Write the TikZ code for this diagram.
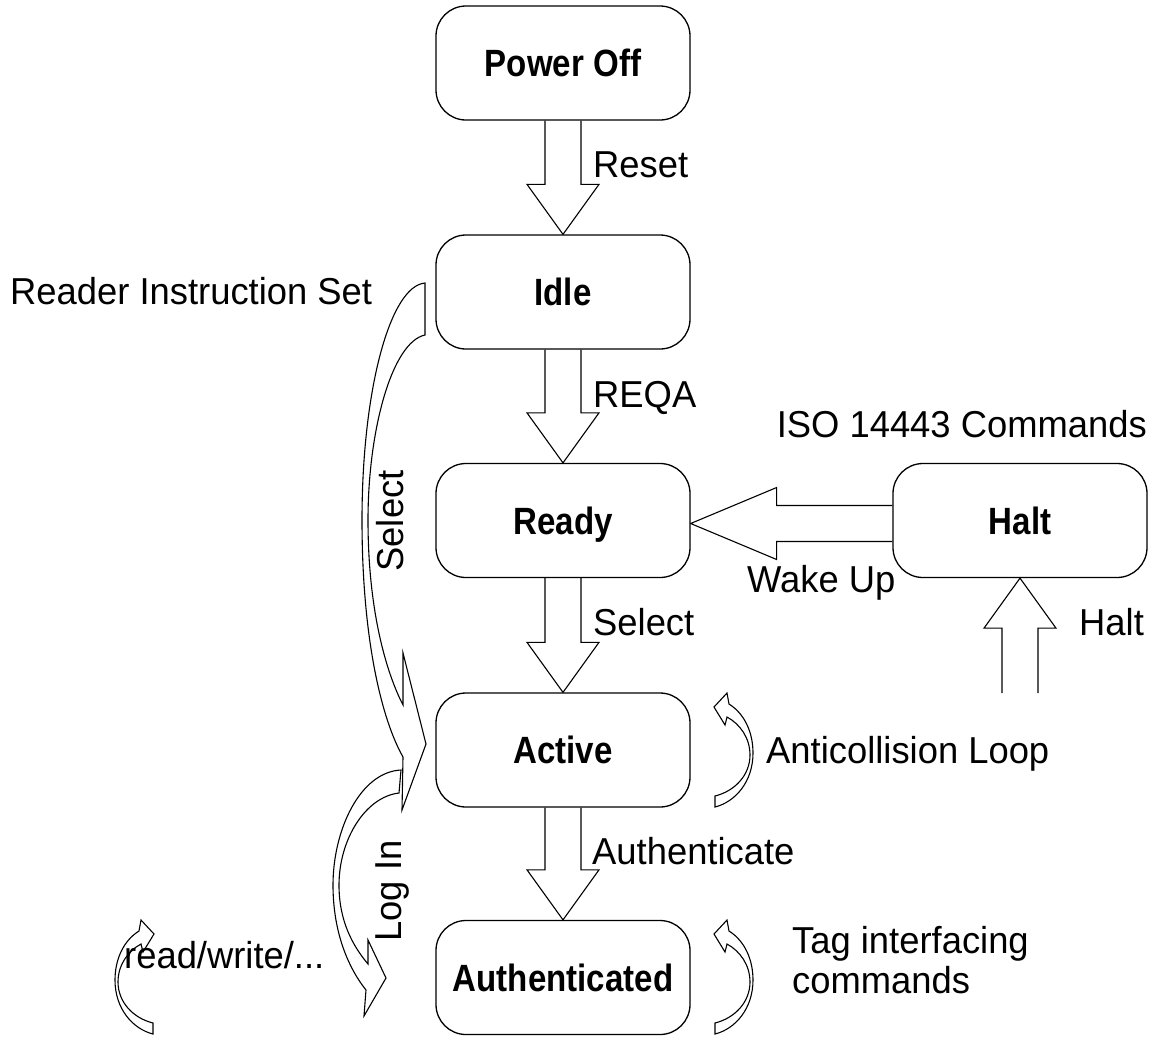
\documentclass[tikz,border=0pt]{standalone}
\usepackage{fontspec}
\setmainfont{Liberation Sans}
\newfontfamily\regfont[FakeStretch=0.97]{Liberation Sans}
\newfontfamily\boldfont[FakeStretch=0.87]{Liberation Sans}
\usetikzlibrary{calc,backgrounds}
\tikzset{
  state/.style={draw, line width=1.3pt, rounded corners=30pt, minimum width=254pt,
    minimum height=114pt, inner sep=0pt, fill=white, text height=27.2pt, text depth=0pt,
    font=\boldfont\fontsize{38}{44}\selectfont\bfseries},
  lbl/.style={font=\regfont\fontsize{37.5}{44}\selectfont, inner sep=0pt},
  blk/.style={draw, line width=1.1pt, fill=white, line join=miter},
}
\newcommand\vblock[2]{%
  \draw[blk] ($(#1.south)+(-18,0)$) -- ($(#2.north)+(-18,-50)$) -- ($(#2.north)+(-36,-50)$)
    -- (#2.north) -- ($(#2.north)+(36,-50)$) -- ($(#2.north)+(18,-50)$) -- ($(#1.south)+(18,0)$);}
\newcommand\loopA{%
  \draw[blk] (715,807) -- (715,796) .. controls (735,791) and (750,775) .. (750,755)
    .. controls (750,738) and (740,724) .. (727,717) -- (725,725) -- (714,707) -- (727,693)
    -- (729,704) .. controls (745,714) and (753,733) .. (753,753)
    .. controls (753,782) and (735,802) .. (715,807) -- cycle;}
\begin{document}
\begin{tikzpicture}[x=1pt,y=-1pt]
\useasboundingbox (0,0) rectangle (1157,1037);
% states
\node[state] (off) at (563,63) {Power Off};
\node[state] (idle) at (563,292) {Idle};
\node[state] (ready) at (563,520.5) {Ready};
\node[state] (active) at (563,750) {Active};
\node[state] (auth) at (563,977.5) {Authenticated};
\node[state] (halt) at (1020,520.5) {Halt};
\coordinate (haltin) at (1020,693);
% straight block arrows
\begin{scope}[on background layer]
\vblock{off}{idle}
\vblock{idle}{ready}
\vblock{ready}{active}
\vblock{active}{auth}
\draw[blk] ($(haltin)+(-18,0)$) -- ($(halt.south)+(-18,50)$) -- ($(halt.south)+(-36,50)$)
  -- (halt.south) -- ($(halt.south)+(36,50)$) -- ($(halt.south)+(18,50)$) -- ($(haltin)+(18,0)$);
\draw[blk] ($(halt.west)+(0,-15)$) -- ($(ready.east)+(86,-15)$) -- ($(ready.east)+(86,-33)$)
  -- ($(ready.east)+(0,3)$) -- ($(ready.east)+(86,39)$) -- ($(ready.east)+(86,21)$) -- ($(halt.west)+(0,21)$);
\end{scope}
% curved arrows
\draw[blk] (425,283) .. controls (390,286) and (362,390) .. (362,520)
  .. controls (362,640) and (382,720) .. (403,757) -- (402,810) -- (426,744) -- (403,653)
  -- (403,705) .. controls (386,672) and (368,610) .. (368,520)
  .. controls (368,430) and (392,342) .. (425,335) -- cycle;
\draw[blk] (401,770) .. controls (360,772) and (333,830) .. (333,885)
  .. controls (333,935) and (350,970) .. (366,990) -- (364,1016) -- (386,978) -- (368,940)
  -- (368,964) .. controls (352,945) and (339,920) .. (339,885)
  .. controls (339,840) and (365,797) .. (399,793) -- cycle;
\loopA
\begin{scope}[shift={(0,227)}]\loopA\end{scope}
\begin{scope}[shift={(868,227)},xscale=-1]\loopA\end{scope}
% labels
\node[lbl, anchor=base west] (lreset) at (593,177) {Reset};
\node[lbl, anchor=base west] (lreqa) at (593,407) {REQA};
\node[lbl, anchor=base west] (lsel) at (593,635) {Select};
\node[lbl, anchor=base west] (lauth) at (592,864) {Authenticate};
\node[lbl, anchor=base west] (lris) at (10,304) {Reader Instruction Set};
\node[lbl, anchor=base east] (liso) at (1147,437) {ISO 14443 Commands};
\node[lbl, anchor=base west] (lwake) at (747,592) {Wake Up};
\node[lbl, anchor=base west] (lhalt) at (1079,635) {Halt};
\node[lbl, anchor=base west] (lanti) at (766,763) {Anticollision Loop};
\node[lbl, anchor=base west] (ltag1) at (792,953) {Tag interfacing};
\node[lbl, anchor=base west] (ltag2) at (792,993) {commands};
\node[lbl, anchor=base west] (lrw) at (124,968) {read/write/...};
\node[lbl, rotate=90] (lsel2) at (390,521) {Select};
\node[lbl, rotate=90] (llog) at (392,891) {Log In};
\end{tikzpicture}
\end{document}
